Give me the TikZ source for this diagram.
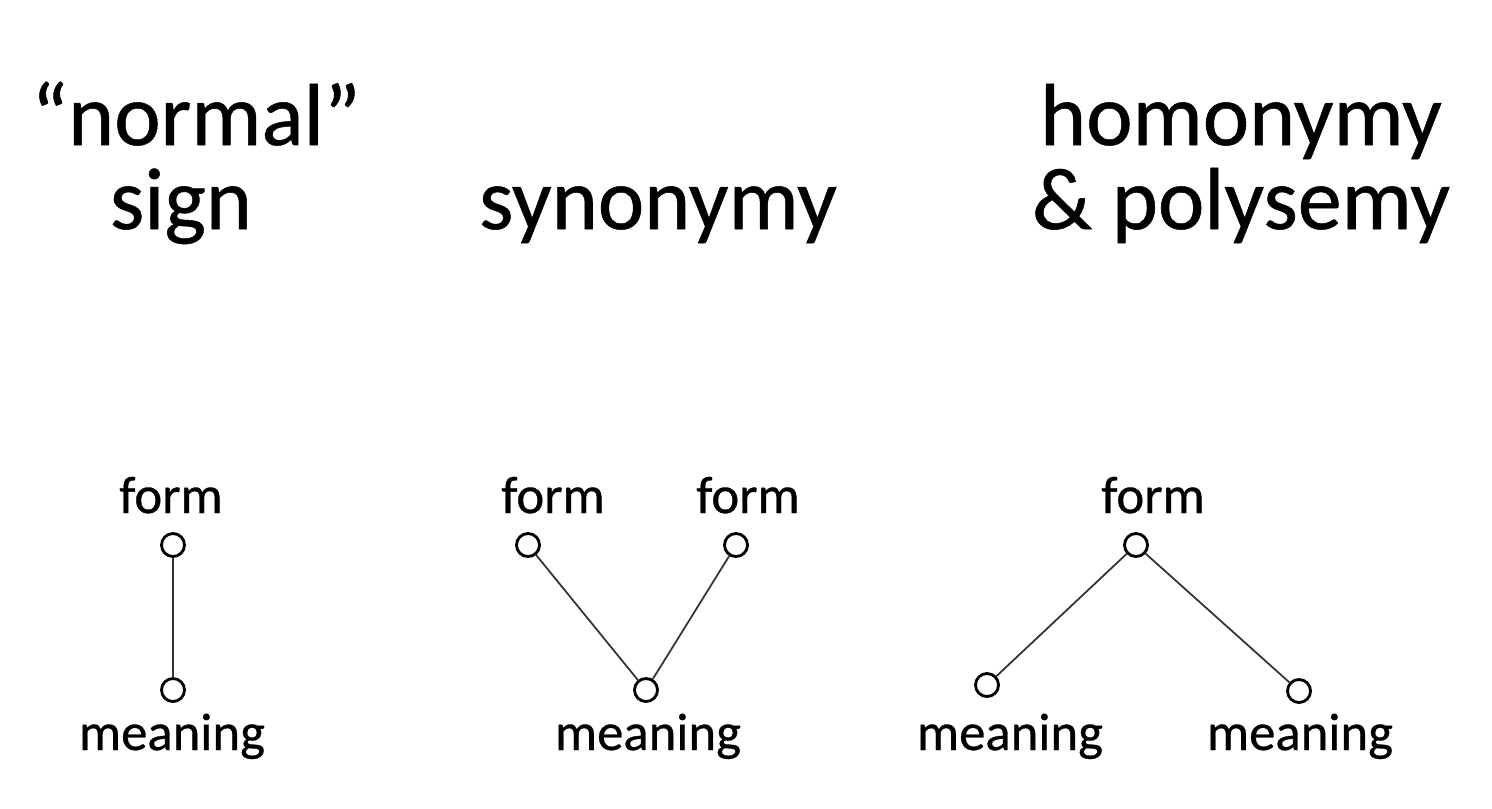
\documentclass[tikz,border=0pt]{standalone}
\usepackage{fontspec}
\setmainfont{Carlito}[FakeBold=0.6]
\begin{document}
\begin{tikzpicture}[x=0.01cm, y=-0.01cm, line join=round, line cap=round,
    pt/.style={circle, draw, line width=0.8pt, minimum size=0.23cm, inner sep=0pt},
    conn/.style={line width=0.5pt, black!80},
    lab/.style={anchor=base, inner sep=0pt, font=\fontsize{15}{18}\selectfont},
    ttl/.style={anchor=base, inner sep=0pt, font=\fontsize{25}{24}\selectfont}]
  \useasboundingbox (0,0) rectangle (1492,808);
  % titles
  \node[ttl] (ttlA) at (196,145) {“normal”};
  \node[ttl] (ttlB) at (181,229) {sign};
  \node[ttl] (ttlC) at (658,229) {synonymy};
  \node[ttl] (ttlD) at (1241,145) {homonymy};
  \node[ttl] (ttlE) at (1241,229) {\& polysemy};
  % normal sign
  \node[pt] (f1) at (173,545) {};
  \node[pt] (m1) at (173,690) {};
  \node[lab] (lf1) at (171,513) {form};
  \node[lab] (lm1) at (172,750) {meaning};
  \draw[conn] (f1) -- (m1);
  % synonymy
  \node[pt] (f2) at (528,545) {};
  \node[pt] (f3) at (736,545) {};
  \node[pt] (m2) at (646,690) {};
  \node[lab] (lf2) at (553,513) {form};
  \node[lab] (lf3) at (748,513) {form};
  \node[lab] (lm2) at (648,750) {meaning};
  \draw[conn] (f2) -- (m2) -- (f3);
  % homonymy and polysemy
  \node[pt] (f4) at (1136,545) {};
  \node[pt] (m3) at (987,685) {};
  \node[pt] (m4) at (1299,691) {};
  \node[lab] (lf4) at (1153,513) {form};
  \node[lab] (lm3) at (1010,750) {meaning};
  \node[lab] (lm4) at (1300,750) {meaning};
  \draw[conn] (m3) -- (f4) -- (m4);
\end{tikzpicture}
\end{document}
